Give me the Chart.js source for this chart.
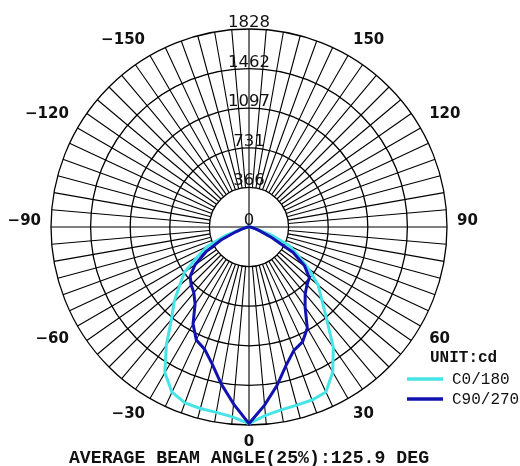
<!DOCTYPE html>
<html>
<head>
<meta charset="utf-8">
<title>Luminous intensity distribution</title>
<script src="https://cdn.jsdelivr.net/npm/chart.js@4.4.1/dist/chart.umd.min.js"></script>
<style>
  html, body { margin: 0; padding: 0; background: #fff; }
  #polar { display: block; }
</style>
</head>
<body>
<canvas id="polar" width="520" height="466"></canvas>
<script>
'use strict'

// gamma angle of every spoke, clockwise from the top of the diagram
let angles = [180, 175, 170, 165, 160, 155, 150, 145, 140, 135, 130, 125, 120, 115, 110, 105, 100, 95,
  90, 85, 80, 75, 70, 65, 60, 55, 50, 45, 40, 35, 30, 25, 20, 15, 10, 5,
  0, -5, -10, -15, -20, -25, -30, -35, -40, -45, -50, -55, -60, -65, -70, -75, -80, -85,
  -90, -95, -100, -105, -110, -115, -120, -125, -130, -135, -140, -145, -150, -155, -160, -165, -170, -175];

// intensity in cd, same order as angles
let c0Values = [0, 0, 0, 0, 0, 0, 0, 0, 0, 0, 0, 0, 0, 0, 0, 0, 0, 0,
  0, 9, 28, 74, 230, 414, 521, 672, 833, 950, 1117, 1357, 1546, 1681, 1700, 1703, 1714, 1745,
  1815, 1759, 1738, 1735, 1728, 1683, 1554, 1330, 1114, 978, 835, 727, 549, 424, 230, 74, 28, 9,
  0, 0, 0, 0, 0, 0, 0, 0, 0, 0, 0, 0, 0, 0, 0, 0, 0, 0];

let c90Values = [0, 0, 0, 0, 0, 0, 0, 0, 0, 0, 0, 0, 0, 0, 0, 0, 0, 0,
  0, 9, 28, 64, 110, 230, 470, 626, 727, 757, 807, 903, 1077, 1170, 1212, 1322, 1486, 1651,
  1815, 1639, 1473, 1311, 1200, 1151, 1033, 868, 792, 755, 709, 608, 460, 285, 129, 64, 28, 9,
  0, 0, 0, 0, 0, 0, 0, 0, 0, 0, 0, 0, 0, 0, 0, 0, 0, 0];

let seriesNames = ['C0/180', 'C90/270'];
let angleTicks = [-150, -120, -90, -60, -30, 0, 30, 60, 90, 120, 150];
let maxValue = 1828;
let ringCount = 5;
let unitText = 'UNIT:cd';
let titleText = 'AVERAGE BEAM ANGLE(25%):125.9 DEG';

let cyan = '#46e4e6';
let navy = '#1212b0';
let ink = '#000';

// spokes start at the first ring, the four main axes run through the centre
let polarGrid = {
  id: 'polarGrid',
  beforeDatasetsDraw(chart) {
    let s = chart.scales.r;
    let ctx = chart.ctx;
    let inner = s.getDistanceFromCenterForValue(s.ticks[1].value);
    let outer = s.drawingArea;

    ctx.save();
    ctx.strokeStyle = ink;
    ctx.lineWidth = 1.1;
    ctx.beginPath();
    angles.forEach(function (a, i) {
      let from = s.getPointPosition(i, a % 90 === 0 ? 0 : inner);
      let to = s.getPointPosition(i, outer);
      ctx.moveTo(from.x, from.y);
      ctx.lineTo(to.x, to.y);
    });
    ctx.stroke();

    // ring values along the top axis
    ctx.fillStyle = '#111';
    ctx.font = '16.5px "DejaVu Sans"';
    ctx.textAlign = 'center';
    ctx.textBaseline = 'alphabetic';
    s.ticks.forEach(function (t) {
      let d = s.getDistanceFromCenterForValue(t.value);
      ctx.fillText(String(Math.round(t.value)), s.xCenter, s.yCenter - d - 2);
    });

    // angle labels round the outside
    ctx.font = 'bold 15px "DejaVu Sans"';
    ctx.textBaseline = 'middle';
    angleTicks.forEach(function (a) {
      let i = angles.indexOf(a);
      let px = s.getPointPosition(i, outer + 10).x;
      let py = s.getPointPosition(i, outer + 17.5).y;
      let dx = px - s.xCenter;
      let dy = py - s.yCenter;
      let lean = dy / (outer + 17.5);
      if (Math.abs(lean) < 0.01) {
        py -= 5.5;
      } else if (Math.abs(lean) < 0.6) {
        py += 4.8 * Math.sign(lean);
      }
      ctx.textAlign = Math.abs(dx) < 1 ? 'center' : (dx > 0 ? 'left' : 'right');
      ctx.fillText(String(a).replace('-', '\u2212'), px, py);
    });
    ctx.restore();
  },
  afterDraw(chart) {
    let s = chart.scales.r;
    let ctx = chart.ctx;
    ctx.save();
    ctx.fillStyle = '#111';
    ctx.textAlign = 'left';
    ctx.textBaseline = 'alphabetic';
    ctx.font = 'bold 16px "Liberation Mono"';
    ctx.fillText(unitText, 430, 362);

    chart.data.datasets.forEach(function (ds, k) {
      let y = 379 + 20 * k;
      ctx.strokeStyle = ds.borderColor;
      ctx.lineWidth = 3.5;
      ctx.beginPath();
      ctx.moveTo(407, y);
      ctx.lineTo(443, y);
      ctx.stroke();
      ctx.font = '16px "Liberation Mono"';
      ctx.fillText(ds.label, 452, y + 4.5);
    });

    ctx.textAlign = 'center';
    ctx.font = 'bold 18.2px "Liberation Mono"';
    ctx.fillText(titleText, s.xCenter, 463);
    ctx.restore();
  }
};

new Chart(document.getElementById('polar'), {
  type: 'radar',
  data: {
    labels: angles,
    datasets: [
      {
        label: seriesNames[0],
        data: c0Values,
        borderColor: cyan,
        backgroundColor: 'transparent',
        order: 2
      },
      {
        label: seriesNames[1],
        data: c90Values,
        borderColor: navy,
        backgroundColor: 'transparent',
        order: 1
      }
    ]
  },
  options: {
    responsive: false,
    animation: false,
    layout: { padding: { left: 51, top: 29, right: 72, bottom: 40 } },
    elements: {
      line: { borderWidth: 3, tension: 0, fill: false },
      point: { radius: 0, hitRadius: 0 }
    },
    plugins: {
      legend: { display: false },
      title: { display: false },
      tooltip: { enabled: false }
    },
    scales: {
      r: {
        min: 0,
        max: maxValue,
        startAngle: 0,
        ticks: { display: false, count: ringCount + 1 },
        pointLabels: { display: false },
        angleLines: { display: false },
        grid: { color: ink, lineWidth: 1.3, circular: true }
      }
    }
  },
  plugins: [polarGrid]
});
</script>
</body>
</html>
